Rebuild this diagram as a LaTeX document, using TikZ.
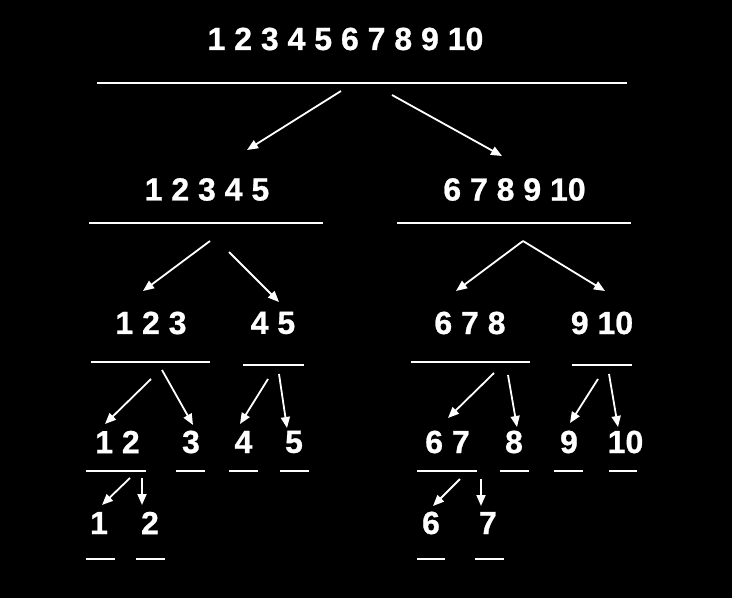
\documentclass[tikz,border=0pt]{standalone}
\usepackage{fontspec}
\setmainfont{Liberation Sans}[BoldFeatures={FakeBold=0.8}]
\usetikzlibrary{arrows.meta}
\tikzset{
  lbl/.style={text=white, inner sep=0pt, anchor=center, font=\fontsize{32}{32}\selectfont\bfseries},
  rule/.style={draw=white, line width=2pt},
  arr/.style={draw=white, line width=1.8pt, -{Triangle[length=11pt,width=9pt]}, shorten >=0pt}
}
\begin{document}
\begin{tikzpicture}[x=1pt,y=-1pt]
\fill[black] (0,0) rectangle (732,598);
\useasboundingbox (0,0) rectangle (732,598);
% texts
\node[lbl] (t0) at (345.5,39) {1 2 3 4 5 6 7 8 9 10};
\node[lbl] (t1) at (207,189.5) {1 2 3 4 5};
\node[lbl] (t2) at (514.5,189.5) {6 7 8 9 10};
\node[lbl] (t11) at (151,323) {1 2 3};
\node[lbl] (t12) at (273,323) {4 5};
\node[lbl] (t21) at (470,323) {6 7 8};
\node[lbl] (t22) at (602,323) {9 10};
\node[lbl] (t111) at (117.5,442) {1 2};
\node[lbl] (t112) at (191,442) {3};
\node[lbl] (t121) at (243.5,442) {4};
\node[lbl] (t122) at (294,442) {5};
\node[lbl] (t211) at (447.5,442) {6 7};
\node[lbl] (t212) at (514,442) {8};
\node[lbl] (t221) at (569,442) {9};
\node[lbl] (t222) at (625.5,442) {10};
\node[lbl] (t1111) at (99,523) {1};
\node[lbl] (t1112) at (150,523) {2};
\node[lbl] (t2111) at (431,523) {6};
\node[lbl] (t2112) at (488,523) {7};
% rules
\draw[rule] (97,82.5) -- (627,82.5);
\draw[rule] (89,223) -- (323,223);
\draw[rule] (397,223) -- (631,223);
\draw[rule] (91,362) -- (210,362);
\draw[rule] (243,365) -- (304,365);
\draw[rule] (411,362) -- (530,362);
\draw[rule] (572,365) -- (632,365);
\foreach \a/\b in {86/146,176/205,229/258,280/309,417/477,500/529,554/583,609/637}
  \draw[rule] (\a,471) -- (\b,471);
\foreach \a/\b in {86/115,136/165,417/445,475/504}
  \draw[rule] (\a,559) -- (\b,559);
% arrow end points
\coordinate (s0a) at (341,91);   \coordinate (e0a) at (247,150);
\coordinate (s0b) at (392,95);   \coordinate (e0b) at (502,156);
\coordinate (s1a) at (210,241);  \coordinate (e1a) at (143,291);
\coordinate (s1b) at (229,252);  \coordinate (e1b) at (279,302);
\coordinate (s2) at (523,241);   \coordinate (e2a) at (456,291);
\coordinate (e2b) at (605,291);
\coordinate (s11a) at (151,379); \coordinate (e11a) at (105,424);
\coordinate (s11b) at (162,370); \coordinate (e11b) at (193,425);
\coordinate (s12a) at (268,379); \coordinate (e12a) at (240,424);
\coordinate (s12b) at (279,374); \coordinate (e12b) at (287,428);
\coordinate (s21a) at (494,373); \coordinate (e21a) at (448,418);
\coordinate (s21b) at (508,375); \coordinate (e21b) at (517,427);
\coordinate (s22a) at (598,379); \coordinate (e22a) at (570,423);
\coordinate (s22b) at (609,374); \coordinate (e22b) at (618,427);
\coordinate (s111a) at (130,478); \coordinate (e111a) at (102,505);
\coordinate (s111b) at (142,478); \coordinate (e111b) at (142,505);
\coordinate (s211a) at (460,479); \coordinate (e211a) at (433,506);
\coordinate (s211b) at (481,479); \coordinate (e211b) at (481,506);
% arrows
\foreach \s/\e in {s0a/e0a,s0b/e0b,s1a/e1a,s1b/e1b,s2/e2a,s2/e2b,s11a/e11a,s11b/e11b,s12a/e12a,s12b/e12b,s21a/e21a,s21b/e21b,s22a/e22a,s22b/e22b,s111a/e111a,s111b/e111b,s211a/e211a,s211b/e211b}
  \draw[arr] (\s) -- (\e);
\end{tikzpicture}
\end{document}
